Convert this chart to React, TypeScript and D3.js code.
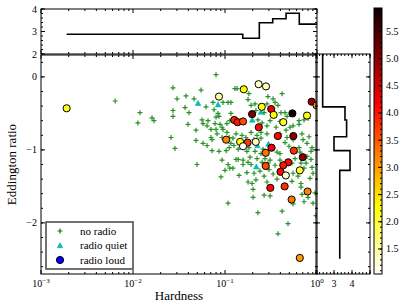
import React from "react";
import * as d3 from "d3";

const W = 407;
const H = 305;
const MAIN = { left: 41, right: 317, top: 55, bottom: 274 };
const TOP = { left: 41, right: 317, top: 9, bottom: 54 };
const SIDE = { left: 316, right: 370, top: 54, bottom: 274 };
const CBAR = { left: 374, right: 382, top: 8, bottom: 274 };
const FONT = "'Liberation Serif', 'DejaVu Serif', serif";

// no radio sources (green +)
const noRadioHardness = [
  0.0064, 0.0119, 0.0113, 0.0161, 0.0169, 0.0272, 0.0377, 0.0301, 0.0461, 0.0368,
  0.0406, 0.0272, 0.0272, 0.0396, 0.0484, 0.0259, 0.0484, 0.0286, 0.0496, 0.0799,
  0.0549, 0.0622, 0.0741, 0.0952, 0.108, 0.116, 0.076, 0.084, 0.0861, 0.0799,
  0.116, 0.0563, 0.0654, 0.0577, 0.0779, 0.0883, 0.0638, 0.0705, 0.0799, 0.0928,
  0.105, 0.113, 0.0819, 0.0952, 0.105, 0.0928, 0.111, 0.0705, 0.0723, 0.0577,
  0.0638, 0.0861, 0.0723, 0.103, 0.111, 0.116, 0.0928, 0.108, 0.113, 0.1,
  0.0905, 0.108, 0.128, 0.135, 0.182, 0.293, 0.417, 0.178, 0.212, 0.286,
  0.192, 0.35, 0.217, 0.266, 0.228, 0.253, 0.309, 0.406, 0.472, 0.396,
  0.359, 0.286, 0.461, 0.509, 0.549, 0.638, 0.723, 0.799, 0.638, 0.396,
  0.472, 0.549, 0.286, 0.246, 0.192, 0.223, 0.207, 0.246, 0.169, 0.153,
  0.132, 0.122, 0.125, 0.139, 0.173, 0.182, 0.212, 0.259, 0.333, 0.368,
  0.638, 0.779, 0.883, 0.654, 0.779, 0.861, 0.577, 0.535, 0.723, 0.883,
  0.309, 0.272, 0.223, 0.187, 0.157, 0.192, 0.253, 0.35, 0.301, 0.24,
  0.207, 0.173, 0.142, 0.122, 0.549, 0.622, 0.84, 0.905, 0.333, 0.377,
  0.449, 0.819, 0.705, 0.449, 0.496, 0.861, 0.687, 0.132, 0.139, 0.157,
  0.178, 0.246, 0.293, 0.396, 0.396, 0.67, 0.76, 0.217, 0.178, 0.197,
  0.202, 0.202, 0.266, 0.286, 0.333, 0.368, 0.266, 0.309, 0.535, 0.67,
  0.67, 0.687, 0.799, 0.723, 0.905, 0.952, 0.549, 0.417, 0.976, 0.228,
  0.484, 0.377,
];
const noRadioEdd = [
  -0.33, -0.49, -0.63, -0.56, -0.6, -0.15, -0.26, -0.3, -0.3, -0.42,
  -0.49, -0.46, -0.54, -0.65, -0.73, -0.83, -0.87, -0.98, -1.2, 0.03,
  -0.18, -0.41, -0.35, -0.35, -0.35, -0.35, -0.45, -0.5, -0.54, -0.55,
  -0.5, -0.59, -0.6, -0.64, -0.64, -0.65, -0.67, -0.72, -0.72, -0.69,
  -0.64, -0.6, -0.78, -0.72, -0.76, -0.83, -0.83, -0.83, -0.86, -0.91,
  -0.94, -1.02, -1.01, -1.01, -0.97, -0.91, -1.14, -1.2, -1.25, -1.28,
  -1.37, -1.73, -0.16, -0.16, -0.23, -0.27, -0.23, -0.31, -0.37, -0.37,
  -0.39, -0.35, -0.46, -0.49, -0.59, -0.63, -0.6, -0.49, -0.54, -0.61,
  -0.69, -0.67, -0.73, -0.69, -0.67, -0.65, -0.59, -0.57, -0.6, -0.78,
  -0.83, -0.86, -0.78, -0.76, -0.76, -0.8, -0.86, -0.84, -0.83, -0.8,
  -0.78, -0.84, -0.94, -0.99, -1.02, -0.97, -1.02, -0.99, -0.98, -1.03,
  -0.97, -0.91, -0.97, -1.03, -1.09, -1.13, -1.12, -1.18, -1.25, -1.24,
  -1.14, -1.12, -1.12, -1.1, -1.14, -1.2, -1.17, -1.21, -1.27, -1.29,
  -1.32, -1.31, -1.35, -1.25, -1.32, -1.36, -1.39, -1.32, -0.3, -0.39,
  -0.49, -0.82, -0.86, -0.9, -0.95, -1.02, -0.78, -1.13, -1.13, -1.2,
  -1.17, -1.05, -1.18, -1.14, -1.05, -1.18, -1.18, -1.41, -1.44, -1.46,
  -1.54, -1.65, -1.36, -1.44, -1.33, -1.4, -1.62, -1.63, -1.43, -1.46,
  -1.51, -1.61, -1.65, -1.71, -1.73, -1.59, -1.74, -1.84, -1.9, -1.86,
  -2.01, -2.15,
];

// radio quiet (cyan triangles)
const quietHardness = [0.0509, 0.084, 0.246, 0.198, 0.225, 0.297, 0.219];
const quietEdd = [-0.36, -0.38, -0.48, -0.59, -0.94, -0.92, -1.23];

// radio loud (circles coloured by value)
const loudHardness = [
  0.0019, 0.16, 0.232, 0.279, 0.875, 0.99, 0.251, 0.318, 0.338, 0.54,
  0.779, 0.43, 0.197, 0.126, 0.137, 0.157, 0.233, 0.375, 0.553, 0.146,
  0.176, 0.216, 0.32, 0.56, 0.277, 0.157, 0.103, 0.086, 0.7, 0.487,
  0.43, 0.277, 0.401, 0.458, 0.65, 0.311, 0.445, 0.79, 0.53, 0.65,
];
const loudEdd = [
  -0.43, -0.17, -0.1, -0.13, -0.34, -0.39, -0.41, -0.44, -0.52, -0.5,
  -0.53, -0.62, -0.51, -0.59, -0.62, -0.61, -0.69, -0.81, -0.81, -0.89,
  -0.9, -0.89, -0.97, -1.01, -1.04, -0.95, -0.86, -0.27, -1.1, -1.17,
  -1.21, -1.22, -1.3, -1.35, -1.28, -1.52, -1.5, -1.57, -1.68, -2.48,
];
const loudValue = [
  2.2, 2.3, 1.3, 1.4, 4.9, 3.0, 2.3, 4.3, 2.3, 5.9,
  2.2, 2.1, 5.1, 3.9, 4.0, 3.6, 4.1, 4.1, 5.0, 2.2,
  3.7, 1.4, 4.2, 3.8, 3.3, 1.05, 3.2, 1.5, 5.0, 4.1,
  4.0, 3.6, 4.1, 1.3, 2.1, 4.1, 3.8, 3.2, 3.3, 3.0,
];

// top panel: step profile over hardness bins
const topEdges = [0.0019, 0.156, 0.236, 0.33, 0.461, 0.642, 1.0];
const topValues = [2.88, 2.7, 3.39, 3.57, 3.81, 3.33];

// side panel: step profile over Eddington ratio bins (bottom to top)
const sideEdges = [-2.49, -1.28, -1.01, -0.82, -0.59, -0.41, 0.4];
const sideValues = [3.32, 3.89, 3.0, 3.7, 3.61, 2.37];

const C_MIN = 1.04;
const C_MAX = 5.93;
const cbarTicks = [1.5, 2.0, 2.5, 3.0, 3.5, 4.0, 4.5, 5.0, 5.5];

const clamp = (v: number) => Math.max(0, Math.min(1, v));
function hotR(v: number) {
  const s = 1 - clamp((v - C_MIN) / (C_MAX - C_MIN));
  const r = s < 0.365 ? 0.0416 + (1 - 0.0416) * (s / 0.365) : 1;
  const g = clamp((s - 0.365) / 0.381);
  const b = clamp((s - 0.746) / 0.254);
  return d3.rgb(r * 255, g * 255, b * 255).formatHex();
}

const x = d3.scaleLog().domain([1e-3, 1]).range([MAIN.left, MAIN.right]);
const y = d3.scaleLinear().domain([-2.7, 0.3]).range([MAIN.bottom, MAIN.top]);
const yTop = d3.scaleLinear().domain([2, 4]).range([TOP.bottom, TOP.top]);
const xSide = d3.scaleLinear().domain([2, 5]).range([SIDE.left, SIDE.right]);
const yBar = d3.scaleLinear().domain([C_MIN, C_MAX]).range([CBAR.bottom, CBAR.top]);

const logMajor = [1e-3, 1e-2, 1e-1, 1];
const logMinor = x.ticks().filter((t) => !logMajor.some((m) => Math.abs(m - t) < 1e-9));
const yMajor = [-2, -1, 0];
const yMinor = d3.range(-2.6, 0.31, 0.2).map((v) => +v.toFixed(2));
const topMinor = d3.range(2, 4.01, 0.2).map((v) => +v.toFixed(2));
const sideMinor = d3.range(2, 5.01, 0.2).map((v) => +v.toFixed(2));
const barMinor = d3.range(1.1, 5.91, 0.1).map((v) => +v.toFixed(2));

const plusPath = (cx: number, cy: number, r: number) =>
  `M${cx - r},${cy}H${cx + r}M${cx},${cy - r}V${cy + r}`;
const triPath = (cx: number, cy: number, r: number) =>
  `M${cx},${cy - r}L${cx + r},${cy + r * 0.8}L${cx - r},${cy + r * 0.8}Z`;

function hTicks(xs: number[], sx: (v: number) => number, y0: number, y1: number, len: number) {
  return xs.map((v, i) => (
    <g key={i}>
      <line x1={sx(v)} x2={sx(v)} y1={y0} y2={y0 - len} />
      <line x1={sx(v)} x2={sx(v)} y1={y1} y2={y1 + len} />
    </g>
  ));
}
function vTicks(ys: number[], sy: (v: number) => number, x0: number, x1: number, len: number) {
  return ys.map((v, i) => (
    <g key={i}>
      <line x1={x0} x2={x0 + len} y1={sy(v)} y2={sy(v)} />
      <line x1={x1} x2={x1 - len} y1={sy(v)} y2={sy(v)} />
    </g>
  ));
}

const fmtMinus = (v: number) => (v < 0 ? "\u2212" + Math.abs(v) : String(v));

export default function App() {
  // top step line
  const topPts: [number, number][] = [];
  topValues.forEach((v, i) => {
    topPts.push([x(topEdges[i]), yTop(v)]);
    topPts.push([x(topEdges[i + 1]), yTop(v)]);
  });
  const topLine = d3.line()(topPts) || "";

  // side step line (vertical)
  const sidePts: [number, number][] = [];
  sideValues.forEach((v, i) => {
    sidePts.push([xSide(v), y(sideEdges[i])]);
    sidePts.push([xSide(v), y(sideEdges[i + 1])]);
  });
  const sideLine = d3.line()(sidePts) || "";

  const gradStops = d3.range(0, 1.0001, 0.02);

  return (
    <svg
      width={W}
      height={H}
      style={{ position: "absolute", left: 0, top: 0, background: "#fff" }}
      fontFamily={FONT}
    >
      <defs>
        <clipPath id="mainClip">
          <rect x={MAIN.left} y={MAIN.top} width={MAIN.right - MAIN.left} height={MAIN.bottom - MAIN.top} />
        </clipPath>
        <clipPath id="topClip">
          <rect x={TOP.left} y={TOP.top} width={TOP.right - TOP.left} height={TOP.bottom - TOP.top} />
        </clipPath>
        <clipPath id="sideClip">
          <rect x={SIDE.left} y={SIDE.top} width={SIDE.right - SIDE.left} height={SIDE.bottom - SIDE.top} />
        </clipPath>
        <linearGradient id="cbarGrad" x1="0" y1="1" x2="0" y2="0">
          {gradStops.map((t, i) => (
            <stop key={i} offset={t} stopColor={hotR(C_MIN + t * (C_MAX - C_MIN))} />
          ))}
        </linearGradient>
      </defs>

      {/* main scatter */}
      <g clipPath="url(#mainClip)">
        <g stroke="#008000" strokeWidth={1.2} opacity={0.85}>
          {noRadioHardness.map((h, i) => (
            <path key={i} d={plusPath(x(h), y(noRadioEdd[i]), 2.5)} />
          ))}
        </g>
        <g fill="#00bfbf" stroke="#00a0a0" strokeWidth={0.5}>
          {quietHardness.map((h, i) => (
            <path key={i} d={triPath(x(h), y(quietEdd[i]), 2.8)} />
          ))}
        </g>
        <g stroke="#000" strokeWidth={1}>
          {loudHardness.map((h, i) => (
            <circle key={i} cx={x(h)} cy={y(loudEdd[i])} r={3.6} fill={hotR(loudValue[i])} />
          ))}
        </g>
      </g>

      {/* main axes frame and ticks */}
      <g stroke="#000" strokeWidth={1} fill="none">
        <rect x={MAIN.left} y={MAIN.top} width={MAIN.right - MAIN.left} height={MAIN.bottom - MAIN.top} />
        {hTicks(logMajor, x, MAIN.bottom, MAIN.top, 4)}
        {hTicks(logMinor, x, MAIN.bottom, MAIN.top, 2)}
        {vTicks(yMajor, y, MAIN.left, MAIN.right, 4)}
        {vTicks(yMinor, y, MAIN.left, MAIN.right, 2)}
      </g>
      <g fontSize={10} fill="#000">
        {logMajor.map((v, i) => (
          <text key={i} x={x(v)} y={MAIN.bottom + 13} textAnchor="middle">
            10
            <tspan dy={-4} fontSize={7}>
              {fmtMinus(Math.round(Math.log10(v)))}
            </tspan>
          </text>
        ))}
        {yMajor.map((v, i) => (
          <text key={i} x={MAIN.left - 4} y={y(v) + 3.5} textAnchor="end">
            {fmtMinus(v)}
          </text>
        ))}
      </g>
      <text x={(MAIN.left + MAIN.right) / 2} y={300} textAnchor="middle" fontSize={13}>
        Hardness
      </text>
      <text
        transform={`translate(16,${(MAIN.top + MAIN.bottom) / 2}) rotate(-90)`}
        textAnchor="middle"
        fontSize={13}
      >
        Eddington ratio
      </text>

      {/* legend */}
      <g>
        <rect x={46} y={222} width={87} height={47} fill="#fff" stroke="#444" strokeWidth={1.5} />
        <path d={plusPath(60, 231, 2.5)} stroke="#008000" strokeWidth={1.2} />
        <path d={triPath(60, 245.5, 2.8)} fill="#00bfbf" stroke="#00a0a0" strokeWidth={0.5} />
        <circle cx={60} cy={260} r={3.6} fill="#0000ff" stroke="#000" />
        <g fontSize={11}>
          <text x={80} y={234.5}>no radio</text>
          <text x={80} y={249}>radio quiet</text>
          <text x={80} y={263.5}>radio loud</text>
        </g>
      </g>

      {/* top panel */}
      <path d={topLine} fill="none" stroke="#000" strokeWidth={1.6} clipPath="url(#topClip)" />
      <g stroke="#000" strokeWidth={1} fill="none">
        <rect x={TOP.left} y={TOP.top} width={TOP.right - TOP.left} height={TOP.bottom - TOP.top} />
        {hTicks(logMajor, x, TOP.bottom, TOP.top, 4)}
        {hTicks(logMinor, x, TOP.bottom, TOP.top, 2)}
        {vTicks([2, 3, 4], yTop, TOP.left, TOP.right, 4)}
        {vTicks(topMinor, yTop, TOP.left, TOP.right, 2)}
      </g>
      <g fontSize={10}>
        {[2, 3, 4].map((v) => (
          <text key={v} x={TOP.left - 4} y={yTop(v) + 3.5} textAnchor="end">
            {v}
          </text>
        ))}
      </g>

      {/* side panel */}
      <path d={sideLine} fill="none" stroke="#000" strokeWidth={1.6} clipPath="url(#sideClip)" />
      <g stroke="#000" strokeWidth={1} fill="none">
        <rect x={SIDE.left} y={SIDE.top} width={SIDE.right - SIDE.left} height={SIDE.bottom - SIDE.top} />
        {hTicks([2, 3, 4, 5], xSide, SIDE.bottom, SIDE.top, 4)}
        {hTicks(sideMinor, xSide, SIDE.bottom, SIDE.top, 2)}
        {vTicks(yMajor, y, SIDE.left, SIDE.right, 4)}
        {vTicks(yMinor, y, SIDE.left, SIDE.right, 2)}
      </g>
      <g fontSize={10}>
        {[3, 4].map((v) => (
          <text key={v} x={xSide(v)} y={SIDE.bottom + 13} textAnchor="middle">
            {v}
          </text>
        ))}
      </g>

      {/* colorbar */}
      <rect
        x={CBAR.left}
        y={CBAR.top}
        width={CBAR.right - CBAR.left}
        height={CBAR.bottom - CBAR.top}
        fill="url(#cbarGrad)"
        stroke="#000"
        strokeWidth={1}
      />
      <g stroke="#000" strokeWidth={1}>
        {cbarTicks.map((v, i) => (
          <line key={i} x1={CBAR.right} x2={CBAR.right - 4} y1={yBar(v)} y2={yBar(v)} />
        ))}
        {barMinor.map((v, i) => (
          <line key={"m" + i} x1={CBAR.right} x2={CBAR.right - 2} y1={yBar(v)} y2={yBar(v)} />
        ))}
      </g>
      <g fontSize={10}>
        {cbarTicks.map((v, i) => (
          <text key={i} x={CBAR.right + 4} y={yBar(v) + 3.5}>
            {v.toFixed(1)}
          </text>
        ))}
      </g>
    </svg>
  );
}
